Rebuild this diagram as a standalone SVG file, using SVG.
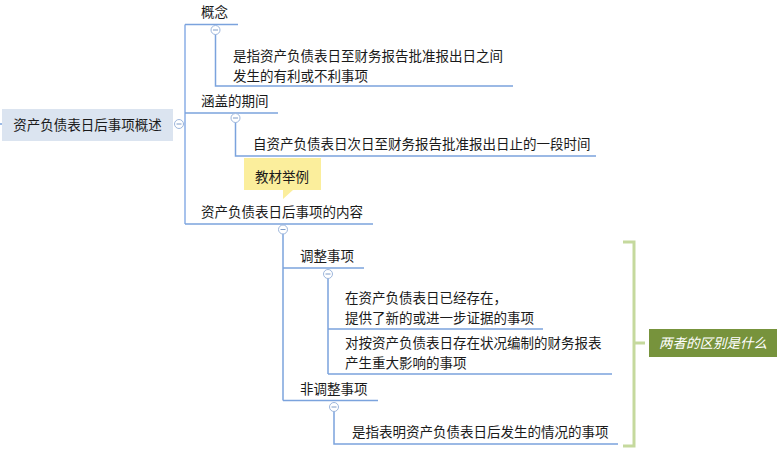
<svg xmlns="http://www.w3.org/2000/svg" width="779" height="453" viewBox="0 0 779 453">
<style>
text{font-family:"Noto Sans CJK SC","Liberation Sans",sans-serif;font-size:13.5px;fill:#1a1a1a}
.ln{fill:none;stroke:#7ba3dd;stroke-width:1.5}
.main{fill:none;stroke:#a7c2ec;stroke-width:2}
.tog circle{fill:#fff;stroke:#9db6dc;stroke-width:1}
.tog line{stroke:#7e9cc8;stroke-width:1}
.br{fill:none;stroke:#c5d99d;stroke-width:3}
</style>
<defs>
<g id="tg" class="tog"><circle r="4.5"/><line x1="-2.5" y1="0" x2="2.5" y2="0"/></g>
</defs>
<g id="connectors">
<path class="ln" d="M0,124 H2"/>
<path class="main" d="M179,124 H185 M185,24.5 V224"/>
<path class="ln" d="M185,24.5 H238"/>
<path class="ln" d="M215.5,30 V86 H513"/>
<path class="ln" d="M185,113 H278"/>
<path class="ln" d="M235.5,118 V156 H596"/>
<path class="ln" d="M185,224 H373"/>
<path class="ln" d="M283,229 V400.5"/>
<path class="ln" d="M283,268 H364"/>
<path class="ln" d="M328,274 V374 M328,329 H543 M328,374 H612"/>
<path class="ln" d="M283,400.5 H378"/>
<path class="ln" d="M334,407 V444 H618"/>
<path class="br" d="M623,242 H634 V446 H623 M634,343 H645"/>
</g>
<g id="root">
<rect x="2" y="109" width="171" height="32" fill="#dbe4f0"/>
<text x="87.5" y="130" text-anchor="middle" fill="#2a2a2a">资产负债表日后事项概述</text>
<use href="#tg" x="179" y="124"/>
</g>
<g id="n-concept">
<text x="201" y="17">概念</text>
<use href="#tg" x="215.5" y="30"/>
</g>
<g id="n-concept-leaf">
<text x="233" y="61">是指资产负债表日至财务报告批准报出日之间<tspan x="233" y="80.5">发生的有利或不利事项</tspan></text>
</g>
<g id="n-period">
<text x="201" y="106">涵盖的期间</text>
<use href="#tg" x="235.5" y="118"/>
</g>
<g id="n-period-leaf">
<text x="253" y="149">自资产负债表日次日至财务报告批准报出日止的一段时间</text>
</g>
<g id="callout">
<path d="M244,158 H321 V190 H293 L283,199 V190 H244 Z" fill="#fbee9c"/>
<text x="255" y="182">教材举例</text>
</g>
<g id="n-content">
<text x="201" y="217">资产负债表日后事项的内容</text>
<use href="#tg" x="283" y="229.5"/>
</g>
<g id="n-adjust">
<text x="300" y="261">调整事项</text>
<use href="#tg" x="328" y="274"/>
</g>
<g id="n-adjust-leaf1">
<text x="345" y="303">在资产负债表日已经存在，<tspan x="345" y="322.5">提供了新的或进一步证据的事项</tspan></text>
</g>
<g id="n-adjust-leaf2">
<text x="345" y="348">对按资产负债表日存在状况编制的财务报表<tspan x="345" y="367.5">产生重大影响的事项</tspan></text>
</g>
<g id="n-nonadjust">
<text x="300" y="394">非调整事项</text>
<use href="#tg" x="334" y="407"/>
</g>
<g id="n-nonadjust-leaf">
<text x="352" y="437">是指表明资产负债表日后发生的情况的事项</text>
</g>
<g id="summary">
<rect x="649" y="329" width="128" height="28" fill="#77933c"/>
<text x="659" y="348" font-style="italic" style="fill:#fff">两者的区别是什么</text>
</g>
</svg>
